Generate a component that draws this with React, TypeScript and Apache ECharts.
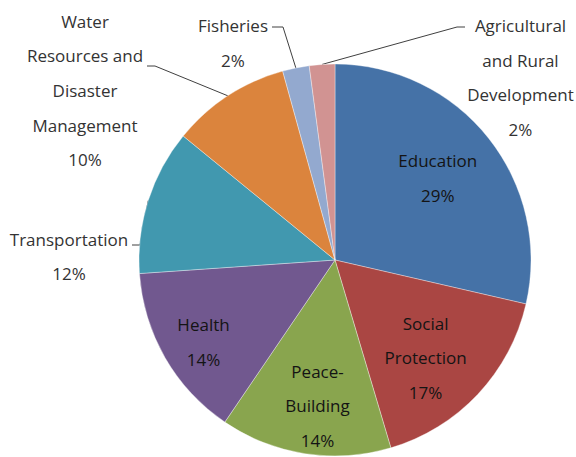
import React, { useEffect, useRef } from "react";
import * as echarts from "echarts";

// ---- data ----
const categories = [
  "Education",
  "Social\nProtection",
  "Peace-\nBuilding",
  "Health",
  "Transportation",
  "Water\nResources and\nDisaster\nManagement",
  "Fisheries",
  "Agricultural\nand Rural\nDevelopment",
];
const shares = [28.6, 16.8, 14.1, 14.4, 12.0, 9.8, 2.2, 2.1];
const colors = ["#4572A7", "#AA4643", "#89A54E", "#71588F", "#4198AF", "#DB843D", "#93A9CF", "#D19392"];

// ---- layout ----
const W = 576;
const H = 457;
const CX = 335;
const CY = 260;
const R = 196;
const INSIDE = [0, 1, 2, 3];
// radial distance of inside labels (fraction of radius) and angular nudge (degrees)
const insideRadius: Record<number, number> = { 0: 0.67, 1: 0.68, 2: 0.75, 3: 0.79 };
const insideShift: Record<number, number> = { 0: 0, 1: 4, 2: -2, 3: -2 };
// outside label placement (block centre, bend and end of leader line)
const outside: Record<number, { x: number; y: number; bend: number[]; end: number[] }> = {
  4: { x: 69, y: 256.5, bend: [140, 245], end: [132, 245] },
  5: { x: 85, y: 90.5, bend: [155, 66], end: [147, 66] },
  6: { x: 233, y: 43, bend: [283, 27], end: [272, 27] },
  7: { x: 520.5, y: 77.5, bend: [457, 27], end: [465, 27] },
};

const FONT = "'Open Sans', 'Noto Sans', sans-serif";

export default function App() {
  const ref = useRef<HTMLDivElement>(null);
  useEffect(() => {
    if (!ref.current) return;
    const chart = echarts.init(ref.current, undefined, { renderer: "svg" });
    const data = categories.map((name, i) => {
      const isInside = INSIDE.includes(i);
      return {
        name,
        value: shares[i],
        itemStyle: { color: colors[i] },
        label: {
          position: isInside ? "inside" : "outside",
          color: isInside ? "#141414" : "#333333",
        },
        labelLine: { show: !isInside },
      };
    });
    chart.setOption({
      animation: false,
      backgroundColor: "#ffffff",
      series: [
        {
          type: "pie",
          center: [CX, CY],
          radius: [0, R],
          startAngle: 90,
          clockwise: true,
          avoidLabelOverlap: false,
          percentPrecision: 0,
          silent: true,
          itemStyle: { borderColor: "rgba(255,255,255,0.6)", borderWidth: 0.6 },
          label: {
            show: true,
            formatter: "{b}\n{d}%",
            fontFamily: FONT,
            fontSize: 17,
            lineHeight: 34.6,
            align: "center",
          },
          labelLine: {
            show: true,
            length: 12,
            length2: 10,
            smooth: false,
            lineStyle: { color: "#404040", width: 1 },
          },
          labelLayout: (p: any) => {
            const i = p.dataIndex;
            const o = outside[i];
            if (o) {
              const pts = p.labelLinePoints;
              const p0 = pts && pts[0] ? pts[0] : o.bend;
              return {
                x: o.x,
                y: o.y,
                align: "center",
                verticalAlign: "middle",
                labelLinePoints: [p0, o.bend, o.end],
              };
            }
            const r = p.labelRect;
            const lx = r.x + r.width / 2;
            const ly = r.y + r.height / 2;
            const theta = Math.atan2(lx - CX, -(ly - CY)) + ((insideShift[i] ?? 0) * Math.PI) / 180;
            const k = (insideRadius[i] ?? 0.5) * R;
            return {
              x: CX + Math.sin(theta) * k,
              y: CY - Math.cos(theta) * k,
              align: "center",
              verticalAlign: "middle",
            };
          },
          data,
        },
      ],
    });
    return () => chart.dispose();
  }, []);
  return (
    <div
      ref={ref}
      style={{ position: "fixed", left: 0, top: 0, width: W, height: H, background: "#fff" }}
    />
  );
}
